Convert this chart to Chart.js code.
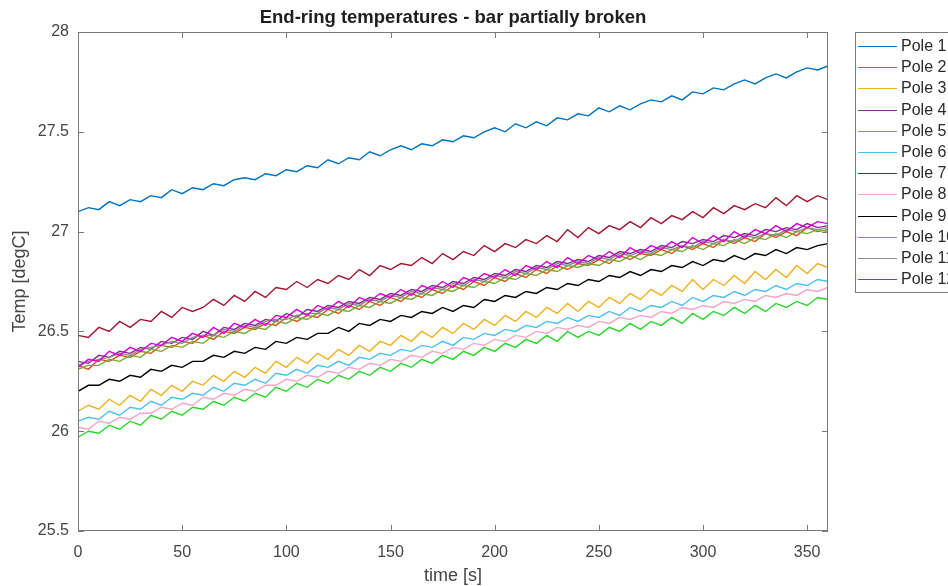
<!DOCTYPE html>
<html>
<head>
<meta charset="utf-8">
<title>End-ring temperatures</title>
<script src="https://cdn.jsdelivr.net/npm/chart.js@4.4.1/dist/chart.umd.min.js"></script>
<style>
  html, body { margin: 0; padding: 0; background: #fff; }
  #wrap { width: 948px; height: 586px; }
</style>
</head>
<body>
<div id="wrap"><canvas id="chart" width="948" height="586"></canvas></div>
<script>
const time = [
    0, 5, 10, 15, 20, 25, 30, 35, 40, 45,
    50, 55, 60, 65, 70, 75, 80, 85, 90, 95,
    100, 105, 110, 115, 120, 125, 130, 135, 140, 145,
    150, 155, 160, 165, 170, 175, 180, 185, 190, 195,
    200, 205, 210, 215, 220, 225, 230, 235, 240, 245,
    250, 255, 260, 265, 270, 275, 280, 285, 290, 295,
    300, 305, 310, 315, 320, 325, 330, 335, 340, 345,
    350, 355, 360
];

const pole1 = [
    27.10, 27.12, 27.11, 27.15, 27.13, 27.16, 27.15, 27.18, 27.17, 27.21,
    27.19, 27.22, 27.21, 27.24, 27.23, 27.26, 27.27, 27.26, 27.29, 27.28,
    27.31, 27.30, 27.33, 27.32, 27.36, 27.34, 27.37, 27.36, 27.40, 27.38,
    27.41, 27.43, 27.41, 27.44, 27.43, 27.46, 27.45, 27.48, 27.47, 27.50,
    27.52, 27.50, 27.54, 27.52, 27.55, 27.53, 27.57, 27.56, 27.59, 27.58,
    27.62, 27.60, 27.63, 27.61, 27.64, 27.66, 27.65, 27.68, 27.66, 27.70,
    27.69, 27.72, 27.71, 27.74, 27.76, 27.74, 27.77, 27.79, 27.77, 27.80,
    27.82, 27.81, 27.83
];
const pole2 = [
    26.33, 26.31, 26.36, 26.35, 26.38, 26.37, 26.40, 26.39, 26.43, 26.42,
    26.45, 26.44, 26.48, 26.46, 26.50, 26.49, 26.52, 26.51, 26.54, 26.53,
    26.57, 26.55, 26.58, 26.57, 26.61, 26.59, 26.63, 26.61, 26.65, 26.63,
    26.67, 26.65, 26.69, 26.67, 26.71, 26.69, 26.73, 26.71, 26.75, 26.73,
    26.77, 26.75, 26.79, 26.77, 26.81, 26.79, 26.83, 26.81, 26.84, 26.83,
    26.86, 26.84, 26.88, 26.86, 26.89, 26.88, 26.91, 26.89, 26.93, 26.91,
    26.94, 26.92, 26.96, 26.94, 26.97, 26.95, 26.99, 26.97, 27.00, 26.98,
    27.02, 27.00, 27.01
];
const pole3 = [
    26.10, 26.13, 26.11, 26.16, 26.13, 26.18, 26.15, 26.21, 26.18, 26.23,
    26.20, 26.25, 26.23, 26.28, 26.25, 26.30, 26.27, 26.32, 26.29, 26.35,
    26.32, 26.37, 26.34, 26.39, 26.36, 26.41, 26.38, 26.43, 26.40, 26.45,
    26.43, 26.48, 26.45, 26.50, 26.47, 26.52, 26.49, 26.54, 26.51, 26.56,
    26.53, 26.58, 26.55, 26.60, 26.57, 26.62, 26.59, 26.64, 26.60, 26.65,
    26.62, 26.67, 26.64, 26.69, 26.66, 26.71, 26.68, 26.73, 26.70, 26.76,
    26.71, 26.76, 26.73, 26.78, 26.74, 26.80, 26.76, 26.81, 26.77, 26.83,
    26.79, 26.84, 26.82
];
const pole4 = [
    26.35, 26.34, 26.38, 26.37, 26.40, 26.39, 26.42, 26.41, 26.45, 26.44,
    26.47, 26.46, 26.50, 26.48, 26.52, 26.51, 26.54, 26.53, 26.56, 26.55,
    26.59, 26.57, 26.61, 26.60, 26.63, 26.62, 26.65, 26.64, 26.67, 26.66,
    26.69, 26.68, 26.71, 26.70, 26.73, 26.72, 26.75, 26.74, 26.77, 26.76,
    26.79, 26.78, 26.81, 26.80, 26.83, 26.82, 26.85, 26.84, 26.86, 26.85,
    26.88, 26.87, 26.90, 26.89, 26.91, 26.90, 26.93, 26.92, 26.95, 26.94,
    26.96, 26.95, 26.98, 26.97, 26.99, 26.98, 27.01, 27.00, 27.02, 27.01,
    27.04, 27.02, 27.03
];
const pole5 = [
    26.31, 26.33, 26.33, 26.36, 26.35, 26.38, 26.37, 26.41, 26.40, 26.43,
    26.42, 26.45, 26.44, 26.48, 26.47, 26.50, 26.49, 26.52, 26.51, 26.55,
    26.54, 26.57, 26.56, 26.59, 26.58, 26.61, 26.60, 26.63, 26.62, 26.65,
    26.64, 26.67, 26.66, 26.69, 26.68, 26.71, 26.70, 26.73, 26.72, 26.75,
    26.74, 26.77, 26.76, 26.79, 26.78, 26.81, 26.80, 26.83, 26.82, 26.84,
    26.83, 26.86, 26.85, 26.88, 26.86, 26.89, 26.88, 26.91, 26.90, 26.93,
    26.91, 26.94, 26.93, 26.96, 26.94, 26.97, 26.96, 26.99, 26.97, 27.00,
    26.99, 27.01, 27.00
];
const pole6 = [
    26.05, 26.07, 26.06, 26.10, 26.08, 26.12, 26.11, 26.15, 26.13, 26.17,
    26.16, 26.19, 26.18, 26.22, 26.20, 26.24, 26.23, 26.26, 26.24, 26.29,
    26.28, 26.31, 26.29, 26.33, 26.32, 26.35, 26.33, 26.37, 26.36, 26.39,
    26.38, 26.41, 26.40, 26.43, 26.42, 26.45, 26.43, 26.47, 26.46, 26.49,
    26.48, 26.51, 26.50, 26.53, 26.52, 26.55, 26.54, 26.57, 26.55, 26.58,
    26.57, 26.60, 26.58, 26.62, 26.60, 26.63, 26.62, 26.65, 26.63, 26.67,
    26.65, 26.68, 26.67, 26.70, 26.68, 26.71, 26.70, 26.73, 26.71, 26.74,
    26.73, 26.76, 26.75
];
const pole7 = [
    26.48, 26.47, 26.52, 26.50, 26.55, 26.52, 26.56, 26.55, 26.60, 26.57,
    26.62, 26.60, 26.62, 26.66, 26.63, 26.68, 26.65, 26.70, 26.67, 26.72,
    26.71, 26.75, 26.72, 26.76, 26.74, 26.78, 26.76, 26.81, 26.78, 26.83,
    26.81, 26.84, 26.83, 26.87, 26.84, 26.89, 26.86, 26.90, 26.88, 26.93,
    26.90, 26.94, 26.92, 26.96, 26.94, 26.98, 26.95, 27.01, 26.97, 27.02,
    26.99, 27.03, 27.01, 27.05, 27.02, 27.07, 27.04, 27.08, 27.06, 27.10,
    27.07, 27.12, 27.09, 27.13, 27.11, 27.14, 27.12, 27.17, 27.13, 27.18,
    27.15, 27.18, 27.16
];
const pole8 = [
    26.02, 26.01, 26.05, 26.04, 26.07, 26.06, 26.09, 26.09, 26.12, 26.11,
    26.14, 26.13, 26.17, 26.16, 26.19, 26.18, 26.21, 26.20, 26.23, 26.23,
    26.26, 26.25, 26.28, 26.27, 26.30, 26.29, 26.32, 26.31, 26.34, 26.33,
    26.36, 26.35, 26.38, 26.37, 26.40, 26.39, 26.42, 26.41, 26.44, 26.43,
    26.46, 26.45, 26.48, 26.47, 26.50, 26.49, 26.52, 26.51, 26.53, 26.52,
    26.55, 26.54, 26.57, 26.56, 26.58, 26.57, 26.60, 26.59, 26.62, 26.61,
    26.63, 26.62, 26.65, 26.64, 26.66, 26.65, 26.68, 26.67, 26.69, 26.68,
    26.71, 26.70, 26.72
];
const pole9 = [
    26.20, 26.23, 26.23, 26.26, 26.25, 26.28, 26.27, 26.31, 26.30, 26.33,
    26.32, 26.35, 26.35, 26.38, 26.37, 26.40, 26.39, 26.42, 26.41, 26.45,
    26.44, 26.47, 26.46, 26.49, 26.49, 26.52, 26.50, 26.54, 26.53, 26.56,
    26.55, 26.58, 26.57, 26.60, 26.59, 26.62, 26.60, 26.63, 26.62, 26.66,
    26.65, 26.68, 26.67, 26.70, 26.69, 26.72, 26.71, 26.74, 26.73, 26.76,
    26.75, 26.78, 26.77, 26.80, 26.78, 26.81, 26.80, 26.83, 26.82, 26.85,
    26.83, 26.86, 26.85, 26.88, 26.86, 26.89, 26.88, 26.91, 26.89, 26.92,
    26.91, 26.93, 26.94
];
const pole10 = [
    25.97, 26.00, 25.99, 26.03, 26.01, 26.05, 26.03, 26.08, 26.06, 26.10,
    26.08, 26.12, 26.11, 26.15, 26.13, 26.17, 26.15, 26.19, 26.17, 26.22,
    26.20, 26.24, 26.22, 26.26, 26.24, 26.28, 26.26, 26.30, 26.28, 26.32,
    26.30, 26.34, 26.32, 26.36, 26.34, 26.38, 26.36, 26.40, 26.38, 26.42,
    26.40, 26.44, 26.42, 26.46, 26.44, 26.48, 26.45, 26.50, 26.47, 26.50,
    26.48, 26.52, 26.50, 26.54, 26.51, 26.55, 26.53, 26.57, 26.54, 26.59,
    26.56, 26.60, 26.58, 26.62, 26.59, 26.63, 26.60, 26.64, 26.62, 26.65,
    26.63, 26.67, 26.66
];
const pole11 = [
    26.33, 26.35, 26.36, 26.37, 26.39, 26.38, 26.41, 26.42, 26.43, 26.45,
    26.44, 26.47, 26.48, 26.48, 26.51, 26.50, 26.53, 26.52, 26.55, 26.56,
    26.56, 26.58, 26.59, 26.59, 26.62, 26.61, 26.64, 26.63, 26.66, 26.65,
    26.68, 26.67, 26.70, 26.69, 26.72, 26.71, 26.74, 26.73, 26.76, 26.75,
    26.78, 26.77, 26.80, 26.79, 26.82, 26.81, 26.84, 26.83, 26.85, 26.84,
    26.87, 26.86, 26.89, 26.88, 26.90, 26.89, 26.92, 26.91, 26.93, 26.92,
    26.95, 26.94, 26.96, 26.95, 26.98, 26.97, 26.99, 26.98, 27.01, 27.00,
    27.02, 27.01, 27.02
];
const pole12 = [
    26.32, 26.36, 26.35, 26.40, 26.38, 26.42, 26.40, 26.44, 26.43, 26.47,
    26.45, 26.49, 26.47, 26.52, 26.49, 26.54, 26.52, 26.56, 26.53, 26.58,
    26.57, 26.61, 26.58, 26.63, 26.61, 26.65, 26.62, 26.67, 26.65, 26.69,
    26.67, 26.71, 26.68, 26.73, 26.71, 26.75, 26.72, 26.77, 26.75, 26.79,
    26.77, 26.81, 26.78, 26.83, 26.81, 26.85, 26.82, 26.87, 26.84, 26.88,
    26.86, 26.90, 26.87, 26.92, 26.89, 26.93, 26.91, 26.95, 26.92, 26.97,
    26.94, 26.98, 26.95, 27.00, 26.97, 27.01, 26.99, 27.03, 27.00, 27.04,
    27.02, 27.05, 27.04
];

const poleNames = ['Pole 1', 'Pole 2', 'Pole 3', 'Pole 4', 'Pole 5', 'Pole 6',
                   'Pole 7', 'Pole 8', 'Pole 9', 'Pole 10', 'Pole 11', 'Pole 12'];
const xTicks = [0, 50, 100, 150, 200, 250, 300, 350];
const yTicks = [25.5, 26, 26.5, 27, 27.5, 28];

// --- Styling ---
const poleColors = ['#0072BD', '#D95319', '#EDB120', '#7E2F8E', '#77AC30', '#4DBEEE',
                    '#A2142F', '#F5A3C7', '#000000', '#2BD42B', '#8C8C8C', '#D600D6'];
const FONT = '"Liberation Sans", Arial, Helvetica, sans-serif';
const AXIS_GRAY = '#7a7a7a';
const TEXT_GRAY = '#454545';

const series = [pole1, pole2, pole3, pole4, pole5, pole6,
                pole7, pole8, pole9, pole10, pole11, pole12];

// --- MATLAB-like frame, inward ticks, title, axis labels and legend ---
const matlabFrame = {
    id: 'matlabFrame',
    afterDraw(chart) {
        const { ctx, chartArea: a, scales: { x, y } } = chart;
        ctx.save();

        // axes box
        ctx.strokeStyle = AXIS_GRAY;
        ctx.lineWidth = 1;
        ctx.strokeRect(a.left + 0.5, a.top + 0.5, a.right - a.left - 1, a.bottom - a.top - 1);

        // inward ticks on all four sides
        ctx.beginPath();
        xTicks.forEach(v => {
            const px = Math.round(x.getPixelForValue(v)) + 0.5;
            ctx.moveTo(px, a.bottom);
            ctx.lineTo(px, a.bottom - 6);
            ctx.moveTo(px, a.top);
            ctx.lineTo(px, a.top + 6);
        });
        yTicks.forEach(v => {
            const py = Math.round(y.getPixelForValue(v)) + 0.5;
            ctx.moveTo(a.left, py);
            ctx.lineTo(a.left + 6, py);
            ctx.moveTo(a.right, py);
            ctx.lineTo(a.right - 6, py);
        });
        ctx.stroke();

        // title
        const cx = (a.left + a.right) / 2;
        ctx.fillStyle = '#1e1e1e';
        ctx.textAlign = 'center';
        ctx.textBaseline = 'middle';
        ctx.font = 'bold 18.5px ' + FONT;
        ctx.fillText('End-ring temperatures - bar partially broken', cx, 18);

        // axis titles
        ctx.fillStyle = TEXT_GRAY;
        ctx.font = '18px ' + FONT;
        ctx.fillText('time [s]', cx, 576);
        ctx.save();
        ctx.translate(20, (a.top + a.bottom) / 2);
        ctx.rotate(-Math.PI / 2);
        ctx.fillText('Temp [degC]', 0, 0);
        ctx.restore();

        // legend box (runs off the right edge like the original)
        const lx = 855, ly = 32;
        ctx.fillStyle = '#fff';
        ctx.fillRect(lx, ly, 130, 260);
        ctx.strokeStyle = AXIS_GRAY;
        ctx.lineWidth = 1;
        ctx.strokeRect(lx + 0.5, ly + 0.5, 130, 260);
        ctx.font = '16px ' + FONT;
        ctx.textAlign = 'left';
        poleNames.forEach((name, i) => {
            const yy = Math.round(46 + i * 21.2) + 0.5;
            ctx.strokeStyle = poleColors[i];
            ctx.lineWidth = 1;
            ctx.beginPath();
            ctx.moveTo(858, yy);
            ctx.lineTo(897, yy);
            ctx.stroke();
            ctx.fillStyle = '#2a2a2a';
            ctx.fillText(name, 901, yy);
        });

        ctx.restore();
    }
};

const datasets = series.map((vals, i) => ({
    label: poleNames[i],
    data: time.map((t, k) => ({ x: t, y: vals[k] })),
    borderColor: poleColors[i],
    borderWidth: 1.4,
    pointRadius: 0,
    fill: false,
    tension: 0,
    order: series.length - i   // later poles drawn on top, like MATLAB
}));

new Chart(document.getElementById('chart'), {
    type: 'line',
    data: { datasets },
    options: {
        responsive: false,
        animation: false,
        devicePixelRatio: 1,
        layout: { padding: { left: 0, top: 32, right: 120, bottom: 0 } },
        plugins: {
            legend: { display: false },
            title: { display: false },
            tooltip: { enabled: false }
        },
        scales: {
            x: {
                type: 'linear',
                min: 0,
                max: 360,
                afterFit: s => { s.height = 55; },
                afterBuildTicks: s => { s.ticks = xTicks.map(v => ({ value: v })); },
                grid: { display: false, drawTicks: false },
                border: { display: false },
                ticks: {
                    padding: 12,
                    color: TEXT_GRAY,
                    font: { family: FONT, size: 16 },
                    maxRotation: 0,
                    callback: v => String(v)
                }
            },
            y: {
                type: 'linear',
                min: 25.5,
                max: 28,
                afterFit: s => { s.width = 78; },
                afterBuildTicks: s => { s.ticks = yTicks.map(v => ({ value: v })); },
                grid: { display: false, drawTicks: false },
                border: { display: false },
                ticks: {
                    padding: 9,
                    color: TEXT_GRAY,
                    font: { family: FONT, size: 16 },
                    callback: v => String(v)
                }
            }
        }
    },
    plugins: [matlabFrame]
});
</script>
</body>
</html>
